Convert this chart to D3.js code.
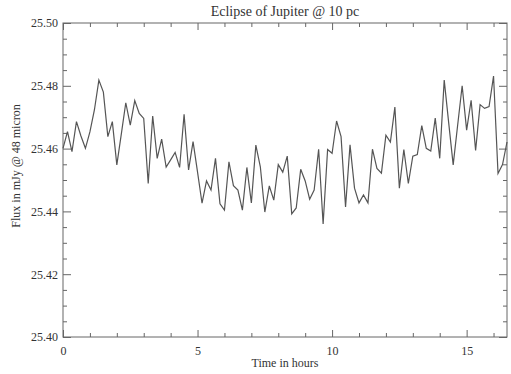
<!DOCTYPE html>
<html>
<head>
<meta charset="utf-8">
<script src="https://cdn.jsdelivr.net/npm/d3@7"></script>
<style>
  body { margin: 0; background: #fff; }
  svg text { font-family: "Liberation Serif", "DejaVu Serif", serif; fill: #333; }
</style>
</head>
<body>
<div class="chart"></div>
<script>
// flux readings, one every 10 minutes (1/6 hour)
const stepHours = 1 / 6;
const flux = [
  25.4601, 25.4654, 25.4590, 25.4686, 25.4640, 25.4601, 25.4653, 25.4723, 25.4818, 25.4780,
  25.4638, 25.4686, 25.4548, 25.4646, 25.4746, 25.4675, 25.4753, 25.4712, 25.4696, 25.4489,
  25.4704, 25.4569, 25.4630, 25.4541, 25.4564, 25.4588, 25.4540, 25.4709, 25.4532, 25.4622,
  25.4525, 25.4426, 25.4497, 25.4468, 25.4569, 25.4424, 25.4404, 25.4558, 25.4482, 25.4468,
  25.4404, 25.4540, 25.4427, 25.4611, 25.4542, 25.4398, 25.4481, 25.4436, 25.4549, 25.4525,
  25.4576, 25.4392, 25.4411, 25.4534, 25.4497, 25.4439, 25.4468, 25.4598, 25.4360, 25.4597,
  25.4585, 25.4688, 25.4638, 25.4414, 25.4612, 25.4474, 25.4427, 25.4452, 25.4427, 25.4598,
  25.4537, 25.4522, 25.4643, 25.4621, 25.4732, 25.4474, 25.4597, 25.4489, 25.4576, 25.4581,
  25.4673, 25.4601, 25.4592, 25.4697, 25.4569, 25.4818, 25.4682, 25.4548, 25.4675, 25.4800,
  25.4659, 25.4754, 25.4594, 25.4740, 25.4728, 25.4734, 25.4831, 25.4521, 25.4549, 25.4621
];
const xTicks = [0, 5, 10, 15];
const xMinorTicks = [1, 2, 3, 4, 6, 7, 8, 9, 11, 12, 13, 14, 16];
const yTicks = [25.40, 25.42, 25.44, 25.46, 25.48, 25.50];
const yMinorTicks = [25.405, 25.41, 25.415, 25.425, 25.43, 25.435, 25.445, 25.45, 25.455,
                     25.465, 25.47, 25.475, 25.485, 25.49, 25.495];

const points = flux.map((v, i) => ({ t: i * stepHours, v: v }));

const svg_width = 511;
const svg_height = 374;
const margin = { top: 23, right: 4, bottom: 37, left: 63 };
const chart_width = svg_width - margin.left - margin.right;
const chart_height = svg_height - margin.top - margin.bottom;

const svg = d3.select('.chart').append('svg')
    .attr('width', svg_width).attr('height', svg_height);
const g = svg.append('g').attr('transform', `translate(${margin.left},${margin.top})`);

const xScale = d3.scaleLinear().domain([0, 16.5]).range([0, chart_width]);
const yScale = d3.scaleLinear().domain([25.40, 25.50]).range([chart_height, 0]);

// tick marks point inward on all four sides (mirrored)
function ticks(axisFn, scale, values, size, fmt) {
    return axisFn(scale).tickValues(values).tickSizeInner(-size).tickSizeOuter(0)
        .tickPadding(fmt ? 6 : 0).tickFormat(fmt || (() => ''));
}
function styleAxis(sel) {
    sel.select('.domain').remove();
    sel.selectAll('line').attr('stroke', '#666').attr('stroke-width', 1);
}

const fmtY = d3.format('.2f');
g.append('g').call(ticks(d3.axisLeft, yScale, yTicks, 8, fmtY)).call(styleAxis)
    .selectAll('text').style('font-size', '12px').attr('x', -5);
g.append('g').call(ticks(d3.axisLeft, yScale, yMinorTicks, 4)).call(styleAxis);
g.append('g').attr('transform', `translate(${chart_width},0)`)
    .call(ticks(d3.axisRight, yScale, yTicks, 8)).call(styleAxis);
g.append('g').attr('transform', `translate(${chart_width},0)`)
    .call(ticks(d3.axisRight, yScale, yMinorTicks, 4)).call(styleAxis);

g.append('g').attr('transform', `translate(0,${chart_height})`)
    .call(ticks(d3.axisBottom, xScale, xTicks, 7, d3.format('d'))).call(styleAxis)
    .selectAll('text').style('font-size', '12px').attr('y', 9);
g.append('g').attr('transform', `translate(0,${chart_height})`)
    .call(ticks(d3.axisBottom, xScale, xMinorTicks, 4)).call(styleAxis);
g.append('g').call(ticks(d3.axisTop, xScale, xTicks, 7)).call(styleAxis);
g.append('g').call(ticks(d3.axisTop, xScale, xMinorTicks, 4)).call(styleAxis);

// frame
g.append('rect').attr('width', chart_width).attr('height', chart_height)
    .attr('fill', 'none').attr('stroke', '#666').attr('stroke-width', 1);

// light curve
const line = d3.line().x(d => xScale(d.t)).y(d => yScale(d.v));
g.append('path').datum(points)
    .attr('d', line)
    .attr('fill', 'none')
    .attr('stroke', '#555')
    .attr('stroke-width', 1.2)
    .attr('stroke-linejoin', 'miter');

// title and labels
svg.append('text').attr('x', margin.left + chart_width / 2).attr('y', 16)
    .attr('text-anchor', 'middle').style('font-size', '14px')
    .text('Eclipse of Jupiter @ 10 pc');
svg.append('text').attr('x', margin.left + chart_width / 2).attr('y', 367)
    .attr('text-anchor', 'middle').style('font-size', '12px')
    .text('Time in hours');
svg.append('text').attr('transform', 'translate(20,166) rotate(-90)')
    .attr('text-anchor', 'middle').style('font-size', '12px')
    .text('Flux in mJy @ 48 micron');
</script>
</body>
</html>
